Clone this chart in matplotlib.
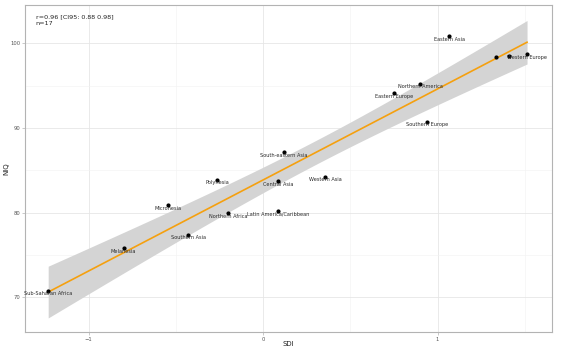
import numpy as np
import matplotlib
matplotlib.use("Agg")
import matplotlib.pyplot as plt

# values
regions = ["Sub-Saharan Africa", "Melanesia", "Micronesia", "Southern Asia",
           "Polynesia", "Northern Africa", "South-eastern Asia", "Central Asia",
           "Latin America/Caribbean", "Western Asia", "Eastern Asia",
           "Northern America", "Eastern Europe", "Southern Europe",
           "", "", "Western Europe"]
sdi = [-1.232, -0.80, -0.544, -0.43, -0.264, -0.20, 0.12, 0.086, 0.086,
       0.355, 1.066, 0.90, 0.75, 0.94, 1.335, 1.41, 1.513]
niq = [70.8, 75.8, 80.9, 77.4, 83.9, 79.9, 87.1, 83.7, 80.2, 84.25, 100.8,
       95.2, 94.1, 90.7, 98.35, 98.5, 98.7]

x = np.array(sdi)
y = np.array(niq)

# OLS fit + 95% confidence band
n = len(x)
b1, b0 = np.polyfit(x, y, 1)
xs = np.linspace(x.min(), x.max(), 100)
ys = b0 + b1 * xs
resid = y - (b0 + b1 * x)
s = np.sqrt(np.sum(resid ** 2) / (n - 2))
t = 2.131  # t(0.975, df=15)
se = s * np.sqrt(1 / n + (xs - x.mean()) ** 2 / np.sum((x - x.mean()) ** 2))

fig, ax = plt.subplots(figsize=(5.72, 3.61), dpi=100)
fig.subplots_adjust(left=0.044, right=0.965, top=0.986, bottom=0.08)

ax.fill_between(xs, ys - t * se, ys + t * se, color="#d4d4d4", lw=0, zorder=1)
ax.plot(xs, ys, color="#f5a00f", lw=1.2, zorder=2)
ax.scatter(x, y, s=4, color="black", zorder=3)

for lab, xi, yi in zip(regions, sdi, niq):
    if lab:
        ax.annotate(lab, (xi, yi), xytext=(0, -3), textcoords="offset pixels",
                    ha="center", va="center", fontsize=3.6, color="#2a2a2a",
                    zorder=4)

ax.text(0.02, 0.972, "r=0.96 [CI95: 0.88 0.98]\nn=17", transform=ax.transAxes,
        ha="left", va="top", fontsize=4.6, color="#222222", linespacing=1.45)

ax.set_xlim(-1.364, 1.656)
ax.set_ylim(65.9, 104.5)
ax.set_xticks([-1, 0, 1])
ax.set_yticks([70, 80, 90, 100])
ax.set_xticks([-0.5, 0.5, 1.5], minor=True)
ax.set_yticks([75, 85, 95], minor=True)
ax.grid(True, which="major", color="#e6e6e6", lw=0.6)
ax.grid(True, which="minor", color="#f2f2f2", lw=0.4)
ax.set_axisbelow(True)
ax.tick_params(which="major", length=2, width=0.5, color="#b3b3b3",
               labelsize=3.8, labelcolor="#555555", pad=1.5)
ax.tick_params(which="minor", length=0)
for sp in ax.spines.values():
    sp.set_color("#b3b3b3")
    sp.set_linewidth(0.8)

ax.set_xlabel("SDI", fontsize=5, color="#222222")
ax.set_ylabel("NIQ", fontsize=5, color="#222222")
ax.xaxis.set_label_coords(0.5, -0.026)
ax.yaxis.set_label_coords(-0.03, 0.5)

fig.savefig("out.png", dpi=100)
